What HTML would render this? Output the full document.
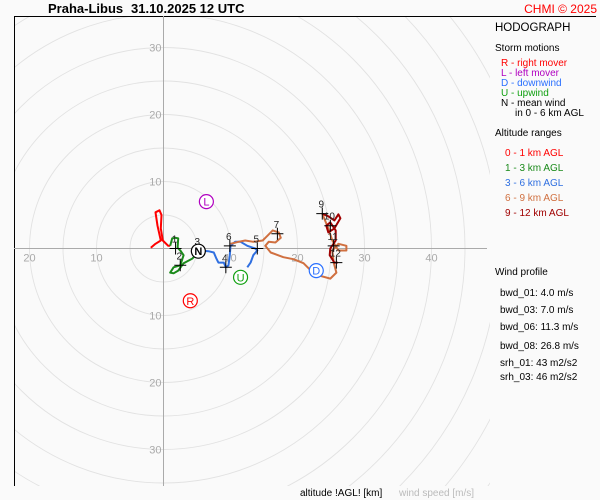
<!DOCTYPE html>
<html><head><meta charset="utf-8"><style>
html,body{margin:0;padding:0;background:#fbfbfb;overflow:hidden;width:600px;height:500px;}
svg{display:block;font-family:"Liberation Sans",sans-serif;}
</style></head><body>
<svg id="c" width="600" height="500" viewBox="0 0 600 500">
<defs><clipPath id="pc"><rect x="14" y="16" width="476" height="470"/></clipPath></defs>
<rect x="0" y="0" width="600" height="500" fill="#fafafa"/>
<g id="grid" clip-path="url(#pc)"></g>
<line x1="14" y1="16.5" x2="596" y2="16.5" stroke="#000"/>
<line x1="14.5" y1="16" x2="14.5" y2="486" stroke="#000"/>
<g id="axes"></g>
<g id="plot"></g>
<text x="48" y="13" font-size="13" font-weight="bold">Praha-Libus</text>
<text x="131" y="13" font-size="13" font-weight="bold">31.10.2025 12 UTC</text>
<text x="597" y="13" font-size="12" fill="#f00" text-anchor="end">CHMI © 2025</text>
<g font-size="10">
<text x="495" y="31" font-size="11.5">HODOGRAPH</text>
<text x="495" y="51">Storm motions</text>
<text x="501" y="66" fill="#f00">R - right mover</text>
<text x="501" y="76" fill="#b000c0">L - left mover</text>
<text x="501" y="86" fill="#2a70ff">D - downwind</text>
<text x="501" y="96" fill="#10a010">U - upwind</text>
<text x="501" y="106">N - mean wind</text>
<text x="515" y="116">in 0 - 6 km AGL</text>
<text x="495" y="136">Altitude ranges</text>
<text x="505" y="156" fill="#f00">0 - 1 km AGL</text>
<text x="505" y="171" fill="#1a8a1a">1 - 3 km AGL</text>
<text x="505" y="186" fill="#2f6fe0">3 - 6 km AGL</text>
<text x="505" y="201" fill="#d07040">6 - 9 km AGL</text>
<text x="505" y="216" fill="#a00000">9 - 12 km AGL</text>
<text x="495" y="275">Wind profile</text>
<text x="500" y="296">bwd_01: 4.0 m/s</text>
<text x="500" y="313">bwd_03: 7.0 m/s</text>
<text x="500" y="330">bwd_06: 11.3 m/s</text>
<text x="500" y="349">bwd_08: 26.8 m/s</text>
<text x="500" y="366">srh_01: 43 m2/s2</text>
<text x="500" y="380">srh_03: 46 m2/s2</text>
</g>
<text x="300" y="496" font-size="10">altitude !AGL! [km]</text>
<text x="399" y="496" font-size="10" fill="#bbb">wind speed [m/s]</text>
</svg>
<script>
const ringSpeeds=[5,10,15,20,25,30,35,40,45,50,55,60];
const axisTicks=[10,20,30,40];
const seg01U=[-1.9,-1.2,-0.4,-0.9,-1.2,-0.6,-0.3,-0.4,-0.1,0.7,1.0];
const seg01V=[0.1,0.7,1.2,3.4,5.4,5.7,5.0,3.0,1.2,0.4,0.4];
const seg13U=[1.0,1.3,1.8,2.2,2.1,2.5,3.0,2.5,1.5,1.0,1.5,2.2,3.0,4.3,5.1,5.5];
const seg13V=[0.4,1.5,1.6,1.5,0.1,-0.3,-1.0,-2.5,-2.8,-3.6,-3.7,-3.3,-2.2,-1.5,-0.7,-0.3];
const seg36U=[5.5,6.7,7.5,7.9,8.2,9.0,9.3,9.7,9.9,10.0,10.7,11.5,12.5,13.7,14.0,13.4,13.0,12.5];
const seg36V=[-0.3,-0.4,-0.6,-1.5,-2.1,-2.1,-2.8,-2.5,-1.0,0.4,1.0,1.0,0.4,0.0,-0.3,-1.0,-2.1,-2.8];
const seg69U=[10.0,11.2,12.2,13.4,14.8,15.5,16.3,17.2,17.5,16.7,15.7,15.2,16.0,17.9,19.4,20.9,22.0,23.1,24.9,25.8,25.4,25.2,26.1,27.3,27.3,26.1,25.2,24.6,23.7];
const seg69V=[0.7,1.0,1.2,1.0,1.2,1.9,2.7,2.4,1.6,0.9,1.0,0.4,-0.6,-1.3,-1.6,-2.2,-3.3,-4.0,-4.5,-3.6,-2.1,-0.3,0.7,0.4,-0.3,-0.3,1.2,3.0,5.2];
const seg912U=[23.7,24.6,25.5,26.1,26.4,25.5,24.6,24.3,24.9,25.7,25.7,24.9,24.8,25.5,26.0];
const seg912V=[5.2,4.8,4.2,5.1,4.5,3.0,2.4,3.4,3.9,2.7,1.2,0.0,-1.0,-2.1,-2.1];
const kmLabels=["1","2","3","4","5","6","7","9","10","11","12"];
const kmU=[1.8,2.5,5.2,9.3,14.0,9.9,17.0,23.7,24.9,25.4,25.8];
const kmV=[0.0,-2.5,-0.4,-2.8,0.0,0.4,2.2,5.2,3.4,0.4,-2.1];
const stormLabels=["R","L","D","U","N"];
const stormU=[4.0,6.4,22.8,11.5,5.2];
const stormV=[-7.8,7.0,-3.3,-4.3,-0.4];

const NS="http://www.w3.org/2000/svg";
const OX=163.5,OY=248.5,S=6.7;
const sx=u=>OX+u*S, sy=v=>OY-v*S;
function mk(tag,parent,attrs){const e=document.createElementNS(NS,tag);for(const k in attrs)e.setAttribute(k,attrs[k]);parent.appendChild(e);return e;}
const grid=document.getElementById('grid'),axes=document.getElementById('axes'),plot=document.getElementById('plot');
ringSpeeds.forEach(r=>{
  const c=mk('circle',grid,{cx:OX,cy:OY,r:r*S,fill:'none',stroke:'#e2e2e2','stroke-width':0.9});
  
  
});
let l=mk('line',axes,{x1:14,y1:OY,x2:487,y2:OY,stroke:'#aaa'});


l=mk('line',axes,{x1:OX,y1:16,x2:OX,y2:486,stroke:'#aaa'});


axisTicks.forEach(t=>{
  let e=mk('text',axes,{x:sx(t),y:OY+13,'font-size':11,fill:'#aaa','text-anchor':'middle'});e.textContent=t;
  
  
  if(t<=20){e=mk('text',axes,{x:sx(-t),y:OY+13,'font-size':11,fill:'#aaa','text-anchor':'middle'});e.textContent=t;
  
  }
  if(t<=30){
    e=mk('text',axes,{x:OX-2,y:sy(t)+4,'font-size':11,fill:'#aaa','text-anchor':'end'});e.textContent=t;
    
    
    e=mk('text',axes,{x:OX-2,y:sy(-t)+4,'font-size':11,fill:'#aaa','text-anchor':'end'});e.textContent=t;
    
    
  }
});
const segs=[[seg01U,seg01V,'#ff0000','trace-0-1km'],[seg13U,seg13V,'#1a8a1a','trace-1-3km'],[seg36U,seg36V,'#2f6fe0','trace-3-6km'],[seg69U,seg69V,'#d07040','trace-6-9km'],[seg912U,seg912V,'#a00000','trace-9-12km']];
segs.forEach(s=>{
  const d=s[0].map((u,i)=>(i?'L':'M')+sx(u).toFixed(1)+','+sy(s[1][i]).toFixed(1)).join('');
  const p=mk('path',plot,{d:d,fill:'none',stroke:s[2],'stroke-width':2,'stroke-linejoin':'round'});
  
  
});
kmLabels.forEach((k,i)=>{
  const x=sx(kmU[i]),y=sy(kmV[i]);
  const g=mk('g',plot,{});
  
  
  mk('path',g,{d:`M${x-6},${y}H${x+6}M${x},${y-6}V${y+6}`,stroke:'#000','stroke-width':1});
  const t=mk('text',g,{x:x-1,y:y-6,'font-size':10,'text-anchor':'middle',fill:'#222'});t.textContent=k;
});
const sCol={R:'#f00',L:'#b000c0',D:'#2a70ff',U:'#10a010',N:'#000'};
stormLabels.forEach((k,i)=>{
  const x=sx(stormU[i]),y=sy(stormV[i]);
  const g=mk('g',plot,{});
  
  
  mk('circle',g,{cx:x,cy:y,r:7,fill:'#fff',stroke:sCol[k],'stroke-width':1.2});
  const t=mk('text',g,{x:x,y:y+4,'font-size':11,'text-anchor':'middle',fill:sCol[k],'font-weight':k==='N'?'bold':'normal'});t.textContent=k;
});
</script>
</body></html>
